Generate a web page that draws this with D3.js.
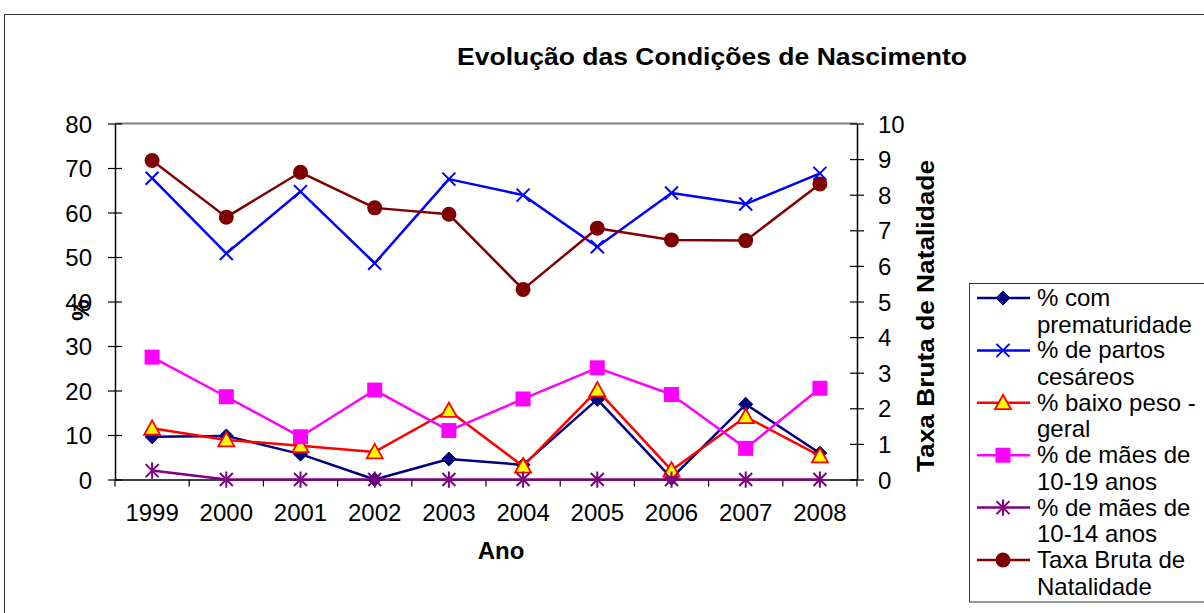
<!DOCTYPE html>
<html><head><meta charset="utf-8">
<script src="https://cdn.jsdelivr.net/npm/d3@7"></script>
<style>body{margin:0;background:#fff}svg{display:block;font-family:"Liberation Sans",Arial,sans-serif}</style>
</head><body>
<svg id="c" width="1204" height="613"></svg>
<script>
const years = ["1999","2000","2001","2002","2003","2004","2005","2006","2007","2008"];
const prematuridade = [9.6,9.8,5.7,0,4.6,3.3,18.0,0.3,16.9,5.9];
const cesareos = [67.7,50.8,64.7,48.6,67.5,63.9,52.3,64.4,61.9,68.8];
const baixoPeso = [11.5,8.9,7.6,6.2,15.5,3.0,20.1,2.1,14.1,5.3];
const maes1019 = [27.5,18.6,9.6,20.1,11.0,18.1,25.1,19.1,7.0,20.5];
const maes1014 = [2.0,0,0,0,0,0,0,0,0,0];
const taxaBruta = [8.96,7.37,8.63,7.63,7.45,5.34,7.06,6.73,6.71,8.30];
const leftTicks = [0,10,20,30,40,50,60,70,80];
const rightTicks = [0,1,2,3,4,5,6,7,8,9,10];

const series = [
  {name:["% com","prematuridade"], values:prematuridade, axis:"L", color:"#000080", marker:"diamond"},
  {name:["% de partos","cesáreos"], values:cesareos, axis:"L", color:"#0000FF", marker:"x"},
  {name:["% baixo peso -","geral"], values:baixoPeso, axis:"L", color:"#FF0000", marker:"triangle"},
  {name:["% de mães de","10-19 anos"], values:maes1019, axis:"L", color:"#FF00FF", marker:"square"},
  {name:["% de mães de","10-14 anos"], values:maes1014, axis:"L", color:"#800080", marker:"star"},
  {name:["Taxa Bruta de","Natalidade"], values:taxaBruta, axis:"R", color:"#800000", marker:"circle"}
];

const FONT = "Liberation Sans, Arial, sans-serif";
const svg = d3.select("#c");
const L = 115, R = 857, T = 123.5, B = 479.5;

svg.append("rect").attr("x",4.5).attr("y",14.5).attr("width",1220).attr("height",620)
  .attr("fill","none").attr("stroke","#333").attr("stroke-width",1);

const x = d3.scaleBand().domain(years).range([L,R]).padding(0);
const yL = d3.scaleLinear().domain([0,80]).range([B,T]);
const yR = d3.scaleLinear().domain([0,10]).range([B,T]);

svg.append("line").attr("x1",L).attr("x2",R).attr("y1",T).attr("y2",T).attr("stroke","#808080").attr("stroke-width",2);

const fs = 24;
const gl = svg.append("g").attr("transform",`translate(${L},0)`)
  .call(d3.axisLeft(yL).tickValues(leftTicks).tickSize(7).tickSizeOuter(0).tickPadding(16));
gl.selectAll(".tick line").attr("x2",-7).attr("x1",7).attr("stroke","#000").attr("stroke-width",1.2);
gl.select(".domain").attr("stroke","#000").attr("stroke-width",1.5);
gl.selectAll(".tick text").attr("font-size",fs).attr("fill","#000").attr("font-family",FONT).attr("dy","0.36em");

const gr = svg.append("g").attr("transform",`translate(${R},0)`)
  .call(d3.axisRight(yR).tickValues(rightTicks).tickSize(7).tickSizeOuter(0).tickPadding(14));
gr.selectAll(".tick line").attr("x1",-7).attr("x2",7).attr("stroke","#000").attr("stroke-width",1.2);
gr.select(".domain").attr("stroke","#000").attr("stroke-width",1.5);
gr.selectAll(".tick text").attr("font-size",fs).attr("fill","#000").attr("font-family",FONT).attr("dy","0.36em");

const gb = svg.append("g").attr("transform",`translate(0,${B})`)
  .call(d3.axisBottom(x).tickSize(0).tickSizeOuter(0).tickPadding(24));
gb.select(".domain").attr("stroke","#000").attr("stroke-width",1.5);
gb.selectAll(".tick text").attr("font-size",fs).attr("fill","#000").attr("font-family",FONT);
const bounds = x.domain().map(d=>x(d)).concat([R]);
svg.append("g").selectAll("line").data(bounds).join("line")
  .attr("x1",d=>d).attr("x2",d=>d).attr("y1",B).attr("y2",B+7).attr("stroke","#000").attr("stroke-width",1.2);

svg.append("text").attr("x",712).attr("y",65).attr("text-anchor","middle").attr("font-size",24).attr("font-weight","bold")
  .attr("textLength",510).attr("lengthAdjust","spacingAndGlyphs").text("Evolução das Condições de Nascimento");
svg.append("text").attr("x",501).attr("y",559).attr("text-anchor","middle").attr("font-size",24).attr("font-weight","bold").text("Ano");
svg.append("text").attr("transform","translate(89,310) rotate(-90)").attr("text-anchor","middle").attr("font-size",24).attr("font-weight","bold").text("%");
svg.append("text").attr("transform","translate(934,316) rotate(-90)").attr("text-anchor","middle").attr("font-size",24).attr("font-weight","bold")
  .attr("textLength",312).attr("lengthAdjust","spacingAndGlyphs").text("Taxa Bruta de Natalidade");

function drawMarker(g, s, cx, cy){
  if(s.marker==="diamond"){
    const r=7;
    g.append("path").attr("d",`M${cx},${cy-r}L${cx+r},${cy}L${cx},${cy+r}L${cx-r},${cy}Z`).attr("fill",s.color).attr("stroke",s.color);
  } else if(s.marker==="x"){
    const r=6.5;
    g.append("path").attr("d",`M${cx-r},${cy-r}L${cx+r},${cy+r}M${cx-r},${cy+r}L${cx+r},${cy-r}`).attr("stroke",s.color).attr("stroke-width",2).attr("fill","none");
  } else if(s.marker==="triangle"){
    const r=8;
    g.append("path").attr("d",`M${cx},${cy-r}L${cx+r},${cy+r*0.8}L${cx-r},${cy+r*0.8}Z`).attr("fill","#FFFF00").attr("stroke","#FF0000").attr("stroke-width",1.8);
  } else if(s.marker==="square"){
    const r=7.5;
    g.append("rect").attr("x",cx-r).attr("y",cy-r).attr("width",2*r).attr("height",2*r).attr("fill",s.color);
  } else if(s.marker==="star"){
    const r=6.5;
    g.append("path").attr("d",`M${cx-r},${cy-r}L${cx+r},${cy+r}M${cx-r},${cy+r}L${cx+r},${cy-r}M${cx},${cy-r*1.25}L${cx},${cy+r*1.25}`).attr("stroke",s.color).attr("stroke-width",2).attr("fill","none");
  } else if(s.marker==="circle"){
    g.append("circle").attr("cx",cx).attr("cy",cy).attr("r",7.5).attr("fill",s.color);
  }
}

const cxOf = d => x(d) + x.bandwidth()/2;
series.forEach(s=>{
  const ys = s.axis==="L" ? yL : yR;
  const g = svg.append("g");
  const line = d3.line().x((d,i)=>cxOf(years[i])).y(d=>ys(d));
  g.append("path").datum(s.values).attr("d",line).attr("fill","none").attr("stroke",s.color).attr("stroke-width",2.5).attr("stroke-linejoin","round");
  s.values.forEach((v,i)=>drawMarker(g,s,cxOf(years[i]),ys(v)));
});

const lg = svg.append("g");
lg.append("rect").attr("x",969.5).attr("y",283.5).attr("width",260).attr("height",318.5).attr("fill","#fff").attr("stroke","#333").attr("stroke-width",1);
series.forEach((s,i)=>{
  const cy = 298 + i*52.4;
  lg.append("line").attr("x1",977).attr("x2",1030).attr("y1",cy).attr("y2",cy).attr("stroke",s.color).attr("stroke-width",2.5);
  drawMarker(lg,s,1003,cy);
  s.name.forEach((t,j)=>{
    lg.append("text").attr("x",1037).attr("y",cy+8+j*26.5).attr("font-size",fs).attr("fill","#000").attr("font-family",FONT).text(t);
  });
});
</script>
</body></html>
